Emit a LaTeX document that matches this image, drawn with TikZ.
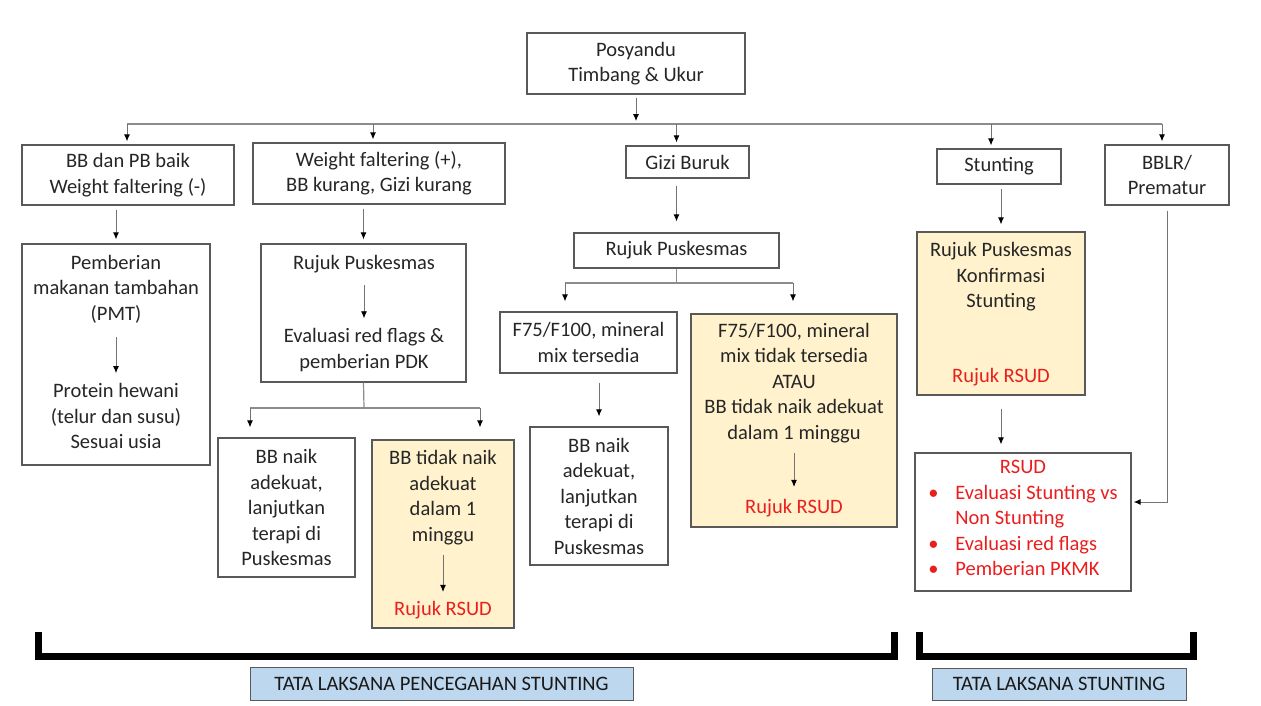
\documentclass[tikz,border=0pt]{standalone}
\usepackage{fontspec}
\setmainfont{Carlito}
\usetikzlibrary{arrows.meta}

\definecolor{kuning}{RGB}{255,242,204}
\definecolor{biru}{RGB}{189,215,238}
\definecolor{merah}{RGB}{235,30,30}
\definecolor{garis}{RGB}{89,89,89}

\tikzset{
  box/.style={draw=garis, line width=1.3pt, fill=white, align=center, inner sep=0pt, text=black!85},
  kbox/.style={box, fill=kuning},
  lbl/.style={draw=garis, line width=1pt, fill=biru, inner sep=0pt, text=black!90},
  txt/.style={align=center, inner sep=0pt, text=black!85},
  merahtxt/.style={txt, text=merah},
  arr/.style={draw=black!55, line width=0.9pt, -{Latex[length=7pt,width=6pt,black]}},
  ln/.style={draw=black!45, line width=1.2pt},
}

\begin{document}
\begin{tikzpicture}[x=1pt, y=-1pt, font=\fontsize{20.5}{25.5}\selectfont]
    \useasboundingbox (0,0) rectangle (1261,705);

    % baris atas
    \node[box, minimum width=218, minimum height=61] (pos) at (636,63.5) {Posyandu\\Timbang \& Ukur};
    \node[box, minimum width=212, minimum height=60] (bb) at (128,175) {BB dan PB baik\\Weight faltering (-)};
    \node[box, minimum width=252, minimum height=61] (wf) at (379,173.5) {Weight faltering (+),\\BB kurang, Gizi kurang};
    \node[box, minimum width=123, minimum height=32] (gizi) at (687.5,162) {Gizi Buruk};
    \node[box, minimum width=124, minimum height=35] (stunt) at (999,166.5) {Stunting};
    \node[box, minimum width=124, minimum height=60] (bblr) at (1167,175) {BBLR/\\Prematur};

    % PMT
    \node[box, minimum width=188, minimum height=221] (pmt) at (116,354.5) {};
    \node[txt] (pmta) at (116,289) {Pemberian\\makanan tambahan\\(PMT)};
    \node[txt] (pmtb) at (116,416) {Protein hewani\\(telur dan susu)\\Sesuai usia};

    % weight faltering
    \node[box, minimum width=205, minimum height=138] (rp1) at (363.5,313) {};
    \node[txt] (rp1a) at (364,264) {Rujuk Puskesmas};
    \node[txt] (rp1b) at (364,350) {Evaluasi red flags \&\\pemberian PDK};
    \node[box, minimum width=137, minimum height=139] (naik1) at (286.5,507.5) {BB naik\\adekuat,\\lanjutkan\\terapi di\\Puskesmas};
    \node[kbox, minimum width=142, minimum height=188] (tdk1) at (443,534) {};
    \node[txt] (tdk1a) at (443,497.5) {BB tidak naik\\adekuat\\dalam 1\\minggu};
    \node[merahtxt] (tdk1b) at (443,610) {Rujuk RSUD};

    % gizi buruk
    \node[box, minimum width=205, minimum height=35] (rp2) at (676.5,250.5) {Rujuk Puskesmas};
    \node[box, minimum width=177, minimum height=61] (f75a) at (588.5,342.5) {F75/F100, mineral\\mix tersedia};
    \node[box, minimum width=138, minimum height=138] (naik2) at (599,496) {BB naik\\adekuat,\\lanjutkan\\terapi di\\Puskesmas};
    \node[kbox, minimum width=206, minimum height=213] (f75b) at (794,420.5) {};
    \node[txt] (f75ba) at (794,383) {F75/F100, mineral\\mix tidak tersedia\\ATAU\\BB tidak naik adekuat\\dalam 1 minggu};
    \node[merahtxt] (f75bb) at (794,508) {Rujuk RSUD};

    % stunting
    \node[kbox, minimum width=168, minimum height=163] (ysk) at (1001,313.5) {};
    \node[txt] (yska) at (1001,277) {Rujuk Puskesmas\\Konfirmasi\\Stunting};
    \node[merahtxt] (yskb) at (1001,377) {Rujuk RSUD};
    \node[box, text=merah, minimum width=216, minimum height=138] (rsud) at (1023,522) {RSUD\\\begin{tabular}[t]{@{}p{27pt}@{}l@{}}
        \textbullet & Evaluasi Stunting vs\\
                    & Non Stunting\\
        \textbullet & Evaluasi red flags\\
        \textbullet & Pemberian PKMK
    \end{tabular}};

    % garis cabang
    \coordinate (bus) at (634,124);
    \draw[arr, shorten <=3pt, shorten >=3pt] (pos.south) -- (pos.south |- bus);
    \coordinate (busL) at ([xshift=-1pt]bb.north);
    \coordinate (busR) at ([xshift=-5pt]bblr.north);
    \draw[ln] (busL |- bus) -- (busR |- bus);
    \foreach \n/\d in {bb/-1, wf/-6, gizi/-11, stunt/-8, bblr/-5} {
        \coordinate (t) at ([xshift=\d pt]\n.north);
        \draw[arr, shorten >=3pt] (t |- bus) -- (t);
    }

    \draw[arr, shorten <=4pt, shorten >=4pt] (bb.south -| pmt.north) -- (pmt.north);
    \draw[arr, shorten <=14pt, shorten >=10pt] (pmta) -- (pmtb);
    \draw[arr, shorten <=4pt, shorten >=4pt] (wf.south -| rp1.north) -- (rp1.north);
    \draw[arr, shorten <=12pt, shorten >=10pt] (rp1a) -- (rp1b);
    \draw[arr, shorten <=10pt, shorten >=9pt] (tdk1a) -- (tdk1b);

    \coordinate (cabA) at (364,408);
    \coordinate (cabAL) at (250,408);
    \coordinate (cabAR) at (480,408);
    \draw[ln] (rp1.south) -- (cabA);
    \draw[ln] (cabAL) -- (cabAR);
    \draw[arr, shorten >=10pt] (cabAL) -- (cabAL |- naik1.north);
    \draw[arr, shorten >=12pt] (cabAR) -- (cabAR |- tdk1.north);

    \draw[arr, shorten <=7pt, shorten >=11pt] (gizi.south -| rp2.north) -- (rp2.north);
    \coordinate (cabB) at (676.5,283);
    \coordinate (cabBL) at (565,283);
    \coordinate (cabBR) at (793,283);
    \draw[ln] (rp2.south) -- (cabB);
    \draw[ln] (cabBL) -- (cabBR);
    \draw[arr, shorten >=10pt] (cabBL) -- (cabBL |- f75a.north);
    \draw[arr, shorten >=12pt] (cabBR) -- (cabBR |- f75b.north);
    \draw[arr, shorten <=9pt, shorten >=10pt] (f75a.south -| naik2.north) -- (naik2.north);
    \draw[arr, shorten <=10pt, shorten >=12pt] (f75ba) -- (f75bb);

    \draw[arr, shorten <=4pt, shorten >=7pt] (stunt.south -| ysk.north) -- (ysk.north);
    \draw[arr, shorten <=13pt, shorten >=8pt] (ysk.south) -- (ysk.south |- rsud.north);
    \draw[arr, shorten <=5pt, shorten >=2pt] (bblr.south) |- ([yshift=20pt]rsud.east);

    % kurung bawah
    \draw[line width=7pt] (38,632) -- (38,656) -- (894,656) -- (894,632);
    \draw[line width=7pt] (919,632) -- (919,656) -- (1193,656) -- (1193,632);
    \node[lbl, minimum width=383, minimum height=33] (tlp) at (441.5,683.5) {TATA LAKSANA PENCEGAHAN STUNTING};
    \node[lbl, minimum width=254, minimum height=32] (tls) at (1059,684) {TATA LAKSANA STUNTING};
\end{tikzpicture}
\end{document}
